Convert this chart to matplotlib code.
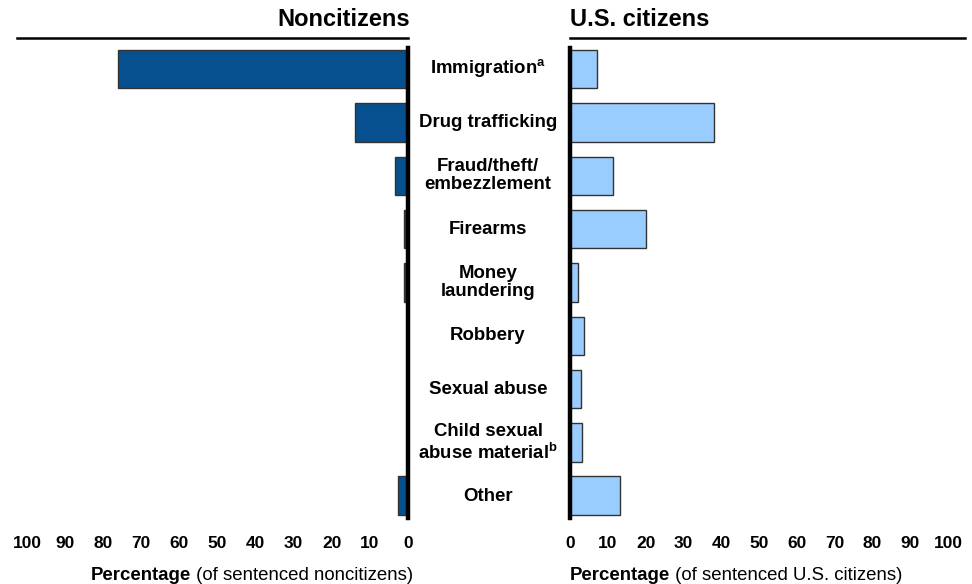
import matplotlib
matplotlib.use("Agg")
import matplotlib.pyplot as plt
from matplotlib import font_manager as fm

categories = ["Immigration$^{\\mathbf{a}}$", "Drug trafficking", "Fraud/theft/\nembezzlement", "Firearms",
              "Money\nlaundering", "Robbery", "Sexual abuse", "Child sexual\nabuse material$^{\\mathbf{b}}$", "Other"]
noncitizens = [76.2, 14.0, 3.4, 1.1, 1.1, 0.0, 0.0, 0.0, 2.5]
citizens = [7.1, 38.0, 11.4, 20.2, 2.0, 3.6, 2.8, 3.3, 13.1]
ticks = [0, 10, 20, 30, 40, 50, 60, 70, 80, 90, 100]

names = {f.name for f in fm.fontManager.ttflist}
main_font = "Liberation Sans" if "Liberation Sans" in names else "DejaVu Sans"
narrow_font = "Liberation Sans Narrow" if "Liberation Sans Narrow" in names else main_font

plt.rcParams["font.family"] = [main_font, "DejaVu Sans"]
plt.rcParams["mathtext.fontset"] = "custom"
plt.rcParams["mathtext.bf"] = main_font + ":bold"
plt.rcParams["mathtext.rm"] = main_font

W, H = 972, 584
fig = plt.figure(figsize=(W / 100, H / 100), dpi=100)

def ax_rect(x0, x1, ytop, ybot):
    return [x0 / W, 1 - ybot / H, (x1 - x0) / W, (ybot - ytop) / H]

axL = fig.add_axes(ax_rect(27, 408, 48, 518))
axR = fig.add_axes(ax_rect(570, 948, 48, 518))

dark = "#06508F"
light = "#99CCFF"
edge = "#333333"
ypos = list(range(len(categories)))

axL.barh(ypos, noncitizens, height=0.72, color=dark, edgecolor=edge, linewidth=1.0, zorder=2)
axR.barh(ypos, citizens, height=0.72, color=light, edgecolor=edge, linewidth=1.0, zorder=2)

for ax in (axL, axR):
    ax.set_ylim(8.42, -0.40)
    for s in ("top", "bottom", "left", "right"):
        ax.spines[s].set_visible(False)
    ax.set_yticks([])
    ax.set_xticks(ticks)
    ax.set_xticklabels([str(t) for t in ticks], fontweight="bold", fontsize=12.5,
                       family=[narrow_font, "DejaVu Sans"])
    ax.tick_params(axis="x", length=0, pad=13)

axL.set_xlim(100, 0)
axR.set_xlim(0, 100)
axL.spines["right"].set_visible(True)
axL.spines["right"].set_linewidth(3.2)
axL.spines["right"].set_zorder(3)
axR.spines["left"].set_visible(True)
axR.spines["left"].set_linewidth(3.2)
axR.spines["left"].set_zorder(3)

# category labels
for i, c in enumerate(categories):
    fig.text(488 / W, 1 - (69 + i * 53.4) / H, c, ha="center", va="center",
             fontsize=13.4, fontweight="bold", linespacing=1.1)

# headings
fig.text(410 / W, 1 - 20 / H, "Noncitizens", ha="right", va="center", fontsize=17, fontweight="bold")
fig.text(570 / W, 1 - 20 / H, "U.S. citizens", ha="left", va="center", fontsize=17, fontweight="bold")
fig.add_artist(plt.Line2D([17 / W, 408 / W], [1 - 38 / H, 1 - 38 / H], color="black", linewidth=1.8))
fig.add_artist(plt.Line2D([570 / W, 965 / W], [1 - 38 / H, 1 - 38 / H], color="black", linewidth=1.8))

# x labels
def xlabel(x, ha, rest):
    t1 = fig.text(0, 0, "Percentage", fontsize=13.4, fontweight="bold", family=[narrow_font, "DejaVu Sans"])
    t2 = fig.text(0, 0, " " + rest, fontsize=13.4, family=[narrow_font, "DejaVu Sans"])
    r = fig.canvas.get_renderer()
    w1 = t1.get_window_extent(r).width
    w2 = t2.get_window_extent(r).width
    total = w1 + w2
    start = x if ha == "left" else x - total
    y = 1 - 575 / H
    t1.set_position((start / W, y)); t1.set_va("center")
    t2.set_position(((start + w1) / W, y)); t2.set_va("center")

xlabel(413, "right", "(of sentenced noncitizens)")
xlabel(570, "left", "(of sentenced U.S. citizens)")

fig.savefig("out.png", dpi=100)
